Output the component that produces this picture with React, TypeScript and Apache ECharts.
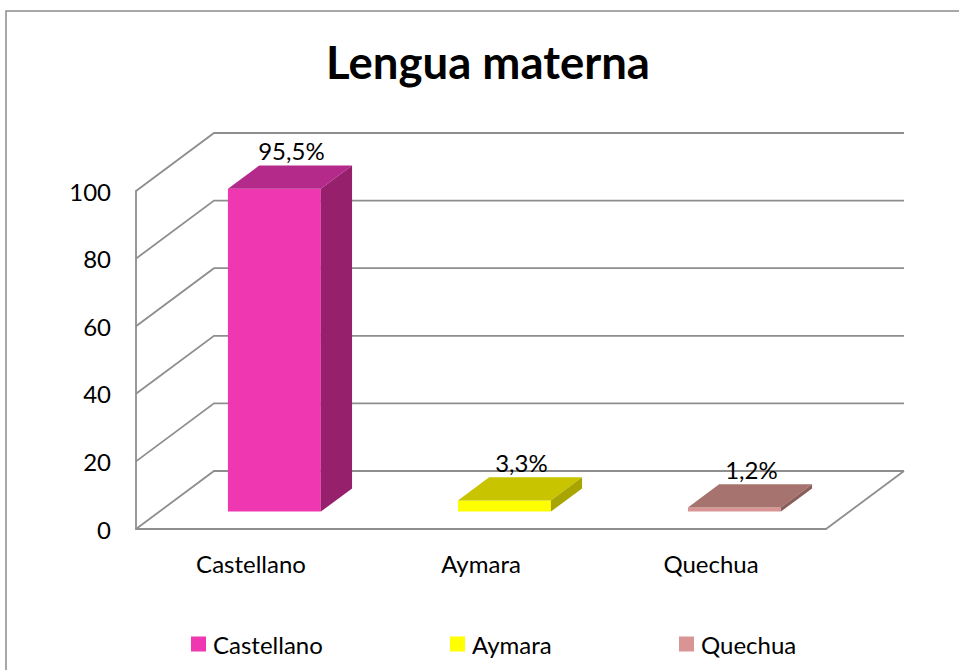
import React, { useEffect, useRef } from "react";
import * as echarts from "echarts";

const categories = ["Castellano", "Aymara", "Quechua"];
const values = [95.5, 3.3, 1.2];
const valueLabels = ["95,5%", "3,3%", "1,2%"];
const yTicks = [0, 20, 40, 60, 80, 100];
const frontColors = ["#EE37B0", "#FFFF00", "#D99594"];
const topColors = ["#B42A8B", "#C8C400", "#A6736F"];
const sideColors = ["#97206D", "#A8A500", "#8A5E5B"];

const DX = 78;
const DY = -58;
const FONT = "Lato, 'Noto Sans', sans-serif";
const LINE = "#8E8E8E";
const LW = 1.8;

export default function App() {
  const ref = useRef<HTMLDivElement>(null);
  useEffect(() => {
    if (!ref.current) return;
    const chart = echarts.init(ref.current, null, { renderer: "svg" });

    const wallSeries: any = {
      type: "custom",
      name: "walls",
      silent: true,
      z: 1,
      data: yTicks.map((v) => [0, v]),
      encode: { x: 0, y: 1 },
      renderItem: (params: any, api: any) => {
        const cs = params.coordSys;
        const L = cs.x;
        const R = cs.x + cs.width;
        const v = api.value(1);
        const y = api.coord([0, v])[1];
        const children: any[] = [
          {
            type: "polyline",
            shape: { points: [[L, y], [L + DX, y + DY], [R + DX, y + DY]] },
            style: { stroke: LINE, lineWidth: LW, fill: null },
          },
        ];
        if (v === yTicks[0]) {
          children.push({
            type: "polyline",
            shape: { points: [[R, y], [R + DX, y + DY]] },
            style: { stroke: LINE, lineWidth: LW, fill: null },
          });
        }
        return { type: "group", children };
      },
    };

    const barSeries = categories.map((c, i) => ({
      type: "custom",
      name: c,
      z: 3,
      itemStyle: { color: frontColors[i] },
      data: [[i, values[i]]],
      encode: { x: 0, y: 1 },
      renderItem: (params: any, api: any) => {
        const idx = api.value(0);
        const v = api.value(1);
        const top = api.coord([idx, v]);
        const base = api.coord([idx, 0]);
        const band = api.size([1, 0])[0];
        const w = band * 0.404;
        const t0 = 0.3;
        const t1 = 0.7;
        const x0 = top[0] - w / 2 + DX * t0;
        const x1 = x0 + w;
        const yb = base[1] + DY * t0;
        const yt = top[1] + DY * t0;
        const ddx = DX * (t1 - t0);
        const ddy = DY * (t1 - t0);
        return {
          type: "group",
          children: [
            {
              type: "polygon",
              shape: { points: [[x0, yt], [x1, yt], [x1, yb], [x0, yb]] },
              style: { fill: frontColors[i] },
            },
            {
              type: "polygon",
              shape: { points: [[x0, yt], [x0 + ddx, yt + ddy], [x1 + ddx, yt + ddy], [x1, yt]] },
              style: { fill: topColors[i] },
            },
            {
              type: "polygon",
              shape: { points: [[x1, yt], [x1 + ddx, yt + ddy], [x1 + ddx, yb + ddy], [x1, yb]] },
              style: { fill: sideColors[i] },
            },
            {
              type: "text",
              x: (x0 + x1) / 2 + 17,
              y: yt + ddy - 15,
              style: {
                text: valueLabels[i],
                fill: "#000",
                font: `24px ${FONT}`,
                align: "center",
                verticalAlign: "middle",
              },
            },
          ],
        };
      },
    }));

    const legendLefts = [191, 450, 679];

    chart.setOption({
      animation: false,
      backgroundColor: "#fff",
      title: {
        text: "Lengua materna",
        left: 483,
        top: 33,
        textAlign: "center",
        textStyle: { fontFamily: FONT, fontWeight: "bold", fontSize: 45.5, color: "#000" },
      },
      graphic: [
        {
          type: "rect",
          shape: { x: 6, y: 11, width: 1000, height: 700 },
          style: { fill: null, stroke: "#8C8C8C", lineWidth: 1.5 },
          silent: true,
        },
      ],
      legend: categories.map((c, i) => ({
        data: [c],
        left: legendLefts[i],
        top: 632,
        padding: 0,
        icon: "rect",
        itemWidth: 15,
        itemHeight: 15,
        itemGap: 0,
        selectedMode: false,
        textStyle: { fontFamily: FONT, fontSize: 24, color: "#000", padding: [0, 0, 0, 2] },
      })),
      grid: { left: 136, right: 133, top: 191, bottom: 141, containLabel: false },
      xAxis: {
        type: "category",
        data: categories,
        axisLine: { show: true, lineStyle: { color: LINE, width: LW } },
        axisTick: { show: false },
        axisLabel: { margin: 22, fontFamily: FONT, fontSize: 24, color: "#000" },
        splitLine: { show: false },
      },
      yAxis: {
        type: "value",
        min: 0,
        max: 100,
        interval: 20,
        axisLine: { show: true, lineStyle: { color: LINE, width: LW } },
        axisTick: { show: false },
        axisLabel: { margin: 25, fontFamily: FONT, fontSize: 24, color: "#000" },
        splitLine: { show: false },
      },
      series: [wallSeries, ...barSeries],
    });
    return () => chart.dispose();
  }, []);
  return (
    <div
      ref={ref}
      style={{ position: "absolute", left: 0, top: 0, width: 959, height: 670 }}
    />
  );
}
